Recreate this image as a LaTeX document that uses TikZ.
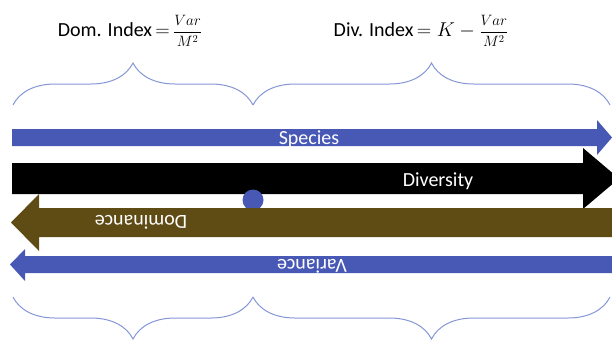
\RequirePackage{fix-cm}
\documentclass[tikz,border=0pt]{standalone}
\usepackage{fontspec}
\setmainfont{Carlito}
\usetikzlibrary{decorations.pathreplacing}

\definecolor{spblue}{HTML}{4858B5}
\definecolor{dombrown}{HTML}{5F4B14}
\definecolor{braceblue}{HTML}{8596D6}

\newcommand{\varfrac}{{\fontsize{15}{15}\selectfont$\displaystyle\frac{Var}{M^2}$}}

\begin{document}
\begin{tikzpicture}[x=1pt,y=-1pt,font=\fontsize{20}{24}\selectfont,txt/.style={text=white,inner sep=0,anchor=base},curly/.style={draw=braceblue,line width=1pt,decorate,decoration={brace,amplitude=42pt}}]

\useasboundingbox (0,0) rectangle (612,341);

% Titles
\node (dom) at (130,31) {Dom. Index\,$=$\,\varfrac};
\node (div) at (421,31) {Div. Index\,$=K-{}$\varfrac};

% Braces
\draw[curly] (13,105) -- (253,105);
\draw[curly] (253,105) -- (610,105);
\draw[curly] (253,297) -- (13,297);
\draw[curly] (610,297) -- (253,297);

% Arrows
\fill[spblue] (12,129) -- (597,129) -- (597,120) -- (612,137.5) -- (597,155) -- (597,146) -- (12,146) -- cycle;
\fill[black] (12,163) -- (583,163) -- (583,148) -- (619,178.5) -- (583,209) -- (583,194) -- (12,194) -- cycle;
\fill[spblue] (253,200) circle (10.5);
\fill[dombrown] (616,208) -- (39,208) -- (39,194) -- (11,222.5) -- (39,251) -- (39,237) -- (616,237) -- cycle;
\fill[spblue] (616,256) -- (25,256) -- (25,249) -- (10,264.5) -- (25,281) -- (25,273) -- (616,273) -- cycle;

% Labels
\node[txt] (species) at (309,144) {Species};
\node[txt] (diversity) at (438,186) {Diversity};
\node[txt,rotate=180] (dominance) at (141,215) {Dominance};
\node[txt,rotate=180] (variance) at (312,259) {Variance};

\end{tikzpicture}
\end{document}
